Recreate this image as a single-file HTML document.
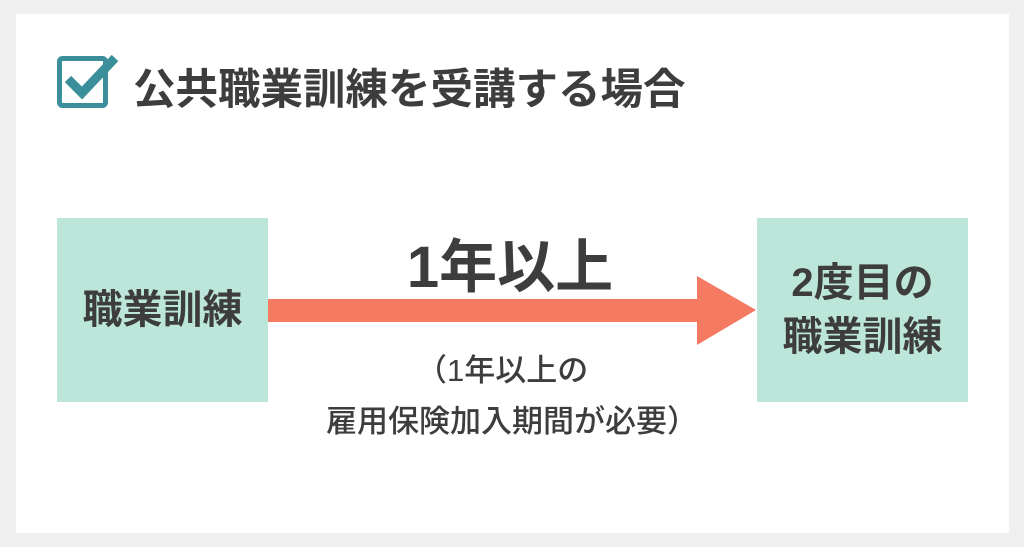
<!DOCTYPE html>
<html><head><meta charset="utf-8"><style>
body{margin:0;width:1024px;height:547px;background:#efefef;overflow:hidden;font-family:"Liberation Sans","Noto Sans CJK JP",sans-serif;color:#3d3d3d}
.card{position:absolute;left:16px;top:14px;width:993px;height:519px;background:#fff}
.t{position:absolute;white-space:nowrap;font-weight:bold}
.box{position:absolute;top:218px;width:211px;height:184px;background:#bde6da;display:flex;align-items:center;justify-content:center;text-align:center;font-weight:bold;font-size:40px;line-height:54px}
</style></head><body>
<div class="card"></div>
<svg style="position:absolute;left:0;top:0" width="1024" height="547">
<rect x="59.5" y="58.5" width="46" height="47" rx="3" fill="none" stroke="#3a8f9b" stroke-width="5"/>
<polyline points="68,79 82,93 115,58" fill="none" stroke="#3a8f9b" stroke-width="9"/>
<rect x="268" y="299" width="432" height="23" fill="#f47a62"/>
<polygon points="697,276 756,310 697,345" fill="#f47a62"/>
</svg>
<div class="t" style="left:133px;top:56px;font-size:42.5px">公共職業訓練を受講する場合</div>
<div class="box" style="left:57px">職業訓練</div>
<div class="box" style="left:757px">2度目の<br>職業訓練</div>
<div class="t" style="left:380px;top:220px;font-size:58px;width:260px;text-align:center">1年以上</div>
<div class="t" style="left:416px;top:345px;font-size:31px;font-weight:500">（1年以上の</div>
<div class="t" style="left:326px;top:396px;font-size:31px;font-weight:500">雇用保険加入期間が必要）</div>
</body></html>
